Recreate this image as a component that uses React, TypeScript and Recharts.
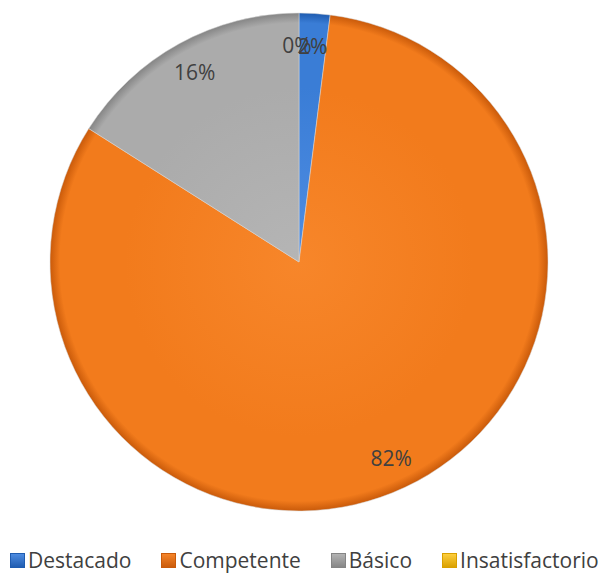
import React from 'react';
import { PieChart, Pie, Cell, Legend } from 'recharts';

const categories = ['Destacado', 'Competente', 'Básico', 'Insatisfactorio'];
const values = [2, 82, 16, 0];
const percentLabels = ['2%', '82%', '16%', '0%'];

const baseColors = ['#3A7DD6', '#F27B1C', '#ABABAB', '#FFC20E'];
const lightColors = ['#4F8DE2', '#F7862A', '#B5B5B5', '#FFD040'];
const darkColors = ['#1F5CB0', '#C95A0A', '#858585', '#D9A000'];

const data = categories.map((name, i) => ({ name, value: values[i], label: percentLabels[i] }));

const CX = 299;
const CY = 262;
const R = 249;
const RAD = Math.PI / 180;
const FONT = "'Open Sans', 'Liberation Sans', sans-serif";

const renderLabel = (props: any) => {
  const { midAngle, index } = props;
  const r = R * 0.87;
  let x = CX + r * Math.cos(-midAngle * RAD);
  const y = CY + r * Math.sin(-midAngle * RAD);
  if (data[index].label === '0%') x -= 2;
  return (
    <text
      x={x}
      y={y}
      textAnchor="middle"
      dominantBaseline="central"
      fill="#404040"
      fontSize={21}
      fontFamily={FONT}
    >
      {data[index].label}
    </text>
  );
};

const renderLegend = () => {
  return (
    <div
      style={{
        display: 'flex',
        justifyContent: 'flex-start',
        alignItems: 'center',
        gap: 30,
        paddingLeft: 10,
        fontFamily: FONT,
        fontSize: 21,
        color: '#404040',
        lineHeight: '28px',
      }}
    >
      {categories.map((name, i) => (
        <div key={name} style={{ display: 'flex', alignItems: 'center' }}>
          <svg width={15} height={15} style={{ marginRight: 3 }}>
            <defs>
              <linearGradient id={`lg${i}`} x1="0" y1="0" x2="0" y2="1">
                <stop offset="0%" stopColor={lightColors[i]} />
                <stop offset="100%" stopColor={darkColors[i]} />
              </linearGradient>
            </defs>
            <rect x={0.5} y={0.5} width={14} height={14} fill={`url(#lg${i})`} stroke={darkColors[i]} strokeWidth={1} />
          </svg>
          <span>{name}</span>
        </div>
      ))}
    </div>
  );
};

export default function App() {
  return (
    <div style={{ position: 'absolute', left: 0, top: 0, width: 600, height: 574, background: '#ffffff' }}>
      <PieChart width={600} height={574} margin={{ top: 0, right: 0, bottom: 0, left: 0 }}>
        <defs>
          {baseColors.map((c, i) => (
            <radialGradient
              key={i}
              id={`rg${i}`}
              cx={CX}
              cy={CY}
              r={R}
              gradientUnits="userSpaceOnUse"
            >
              <stop offset="0%" stopColor={lightColors[i]} />
              <stop offset="70%" stopColor={c} />
              <stop offset="96%" stopColor={c} />
              <stop offset="100%" stopColor={darkColors[i]} />
            </radialGradient>
          ))}
        </defs>
        <Pie
          data={data}
          dataKey="value"
          nameKey="name"
          cx={CX}
          cy={CY}
          outerRadius={R}
          startAngle={90}
          endAngle={-270}
          stroke="#d8d8d8"
          strokeWidth={0.5}
          label={renderLabel}
          labelLine={false}
          isAnimationActive={false}
        >
          {data.map((d, i) => (
            <Cell key={d.name} fill={`url(#rg${i})`} />
          ))}
        </Pie>
        <Legend
          verticalAlign="bottom"
          align="left"
          content={renderLegend}
          wrapperStyle={{ bottom: 0, left: 0, width: 600 }}
        />
      </PieChart>
    </div>
  );
}
